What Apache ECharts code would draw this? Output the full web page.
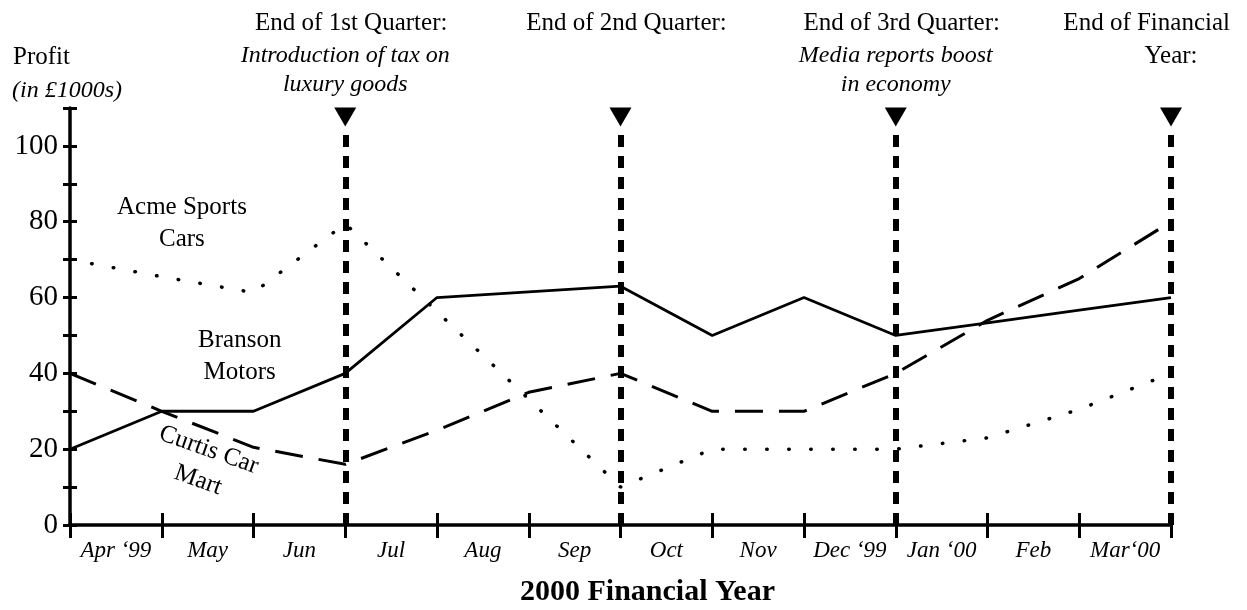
<!DOCTYPE html>
<html>
<head>
<meta charset="utf-8">
<title>2000 Financial Year profit</title>
<script src="https://cdn.jsdelivr.net/npm/echarts@6/dist/echarts.min.js"></script>
<style>
  html, body { margin: 0; padding: 0; background: #fff; }
  #main { width: 1247px; height: 610px; }
</style>
</head>
<body>
<div id="main"></div>
<script>
// month bands (labels sit between ticks), values sit on the month boundaries 0..12
var months = ['Apr \u201899', 'May', 'Jun', 'Jul', 'Aug', 'Sep', 'Oct', 'Nov', 'Dec \u201899', 'Jan \u201800', 'Feb', 'Mar\u201800'];
var branson = [20, 30, 30, 40, 60, 61.5, 63, 50, 60, 50, 53.3, 56.7, 60];
var curtis  = [40, 30, 20.5, 16, 25, 35, 40, 30, 30, 40, 54, 65, 80];
var acme    = [70, 65.5, 61.3, 79.5, 56.3, 33.2, 10, 20, 20, 20, 23, 30.5, 40];
var quarterEnds  = [3, 6, 9, 12];
var quarterHeads = ['End of 1st Quarter:', 'End of 2nd Quarter:', 'End of 3rd Quarter:', 'End of Financial\nYear:'];
var quarterNotes = ['Introduction of tax on\nluxury goods', '', 'Media reports boost\nin economy', ''];

var FONT = '"Liberation Serif", "Times New Roman", serif';
var myChart = echarts.init(document.getElementById('main'));

function pairs(arr) {
    return arr.map(function (v, i) { return [i, v]; });
}

var option = {
    animation: false,
    backgroundColor: '#fff',
    grid: { left: 70, right: 76, top: 108, bottom: 85 },
    xAxis: [{
        type: 'value', min: 0, max: 12, interval: 1, position: 'bottom',
        axisLine: { show: true, onZero: false, lineStyle: { color: '#000', width: 3.5 } },
        axisTick: { show: true, length: 13, lineStyle: { color: '#000', width: 3 } },
        axisLabel: { show: false },
        splitLine: { show: false }
    }, {
        type: 'value', min: 0, max: 12, interval: 1, position: 'bottom',
        axisLine: { show: false, onZero: false },
        axisTick: { show: true, inside: true, length: 12, lineStyle: { color: '#000', width: 3 } },
        axisLabel: { show: false },
        splitLine: { show: false }
    }, {
        type: 'category', data: months, boundaryGap: true, position: 'bottom',
        axisLine: { show: false, onZero: false },
        axisTick: { show: false },
        axisLabel: { interval: 0, margin: 14, color: '#000', fontFamily: FONT, fontStyle: 'italic', fontSize: 23 }
    }],
    yAxis: [{
        type: 'value', min: 0, max: 110, interval: 10, position: 'left',
        axisLine: { show: true, onZero: false, lineStyle: { color: '#000', width: 3.5 } },
        axisTick: { show: true, length: 7, lineStyle: { color: '#000', width: 3 } },
        axisLabel: {
            margin: 12, color: '#000', fontFamily: FONT, fontSize: 29,
            formatter: function (v) { return (v % 20 === 0 && v <= 100) ? String(v) : ''; }
        },
        splitLine: { show: false }
    }, {
        type: 'value', min: 0, max: 110, interval: 10, position: 'left',
        axisLine: { show: false, onZero: false },
        axisTick: { show: true, inside: true, length: 7, lineStyle: { color: '#000', width: 3 } },
        axisLabel: { show: false },
        splitLine: { show: false }
    }],
    series: [{
        name: 'Acme Sports Cars', type: 'line', data: pairs(acme),
        showSymbol: false, silent: true,
        lineStyle: { color: '#000', width: 3.5, type: [0.5, 21.5], cap: 'round' }
    }, {
        name: 'Curtis Car Mart', type: 'line', data: pairs(curtis),
        showSymbol: false, silent: true,
        lineStyle: { color: '#000', width: 3, type: [28, 16] }
    }, {
        name: 'Branson Motors', type: 'line', data: pairs(branson),
        showSymbol: false, silent: true,
        lineStyle: { color: '#000', width: 2.8, type: 'solid' }
    }, {
        name: 'quarters', type: 'scatter', silent: true,
        data: quarterEnds.map(function (q) { return [q, 107.6]; }),
        symbol: 'triangle', symbolRotate: 180, symbolSize: [22, 19],
        itemStyle: { color: '#000', opacity: 1 },
        markLine: {
            silent: true, symbol: 'none', label: { show: false },
            lineStyle: { color: '#000', width: 6, type: [12, 9], opacity: 1 },
            data: quarterEnds.map(function (q) { return [{ coord: [q, 0] }, { coord: [q, 103.5] }]; })
        }
    }]
};
myChart.setOption(option);

// text annotations
var ctx = document.createElement('canvas').getContext('2d');
function textWidth(str, font) { ctx.font = font; return ctx.measureText(str).width; }
function px(x, y) { return myChart.convertToPixel({ xAxisIndex: 0, yAxisIndex: 0 }, [x, y]); }

var graphics = [];
function addText(str, x, y, font, align, rotation) {
    graphics.push({
        type: 'text', x: x, y: y, rotation: rotation || 0, silent: true,
        style: { text: str, font: font, fill: '#000', align: align || 'center', verticalAlign: 'middle', lineHeight: 32 }
    });
}

var headFont = '25px ' + FONT;
var noteFont = 'italic 24px ' + FONT;
var rowY = [23, 56, 85];
quarterEnds.forEach(function (q, i) {
    var cx = px(q, 0)[0];
    var rows = [];
    quarterHeads[i].split('\n').forEach(function (s) { rows.push([s, headFont]); });
    if (quarterNotes[i]) quarterNotes[i].split('\n').forEach(function (s) { rows.push([s, noteFont]); });
    rows.forEach(function (r, k) {
        var w = textWidth(r[0], r[1]);
        var x = Math.min(cx + (k === 0 && i < 3 ? 6 : 0), 1230 - w / 2);
        addText(r[0], x, rowY[k], r[1]);
    });
});

addText('Profit', 13, 57, headFont, 'left');
addText('(in \u00a31000s)', 12, 91, noteFont, 'left');

// x-axis title, centred under the plot as in the original
addText('2000 Financial Year', px(6, 0)[0] + 27, 592, 'bold 30px ' + FONT);

var lf = '25px ' + FONT;
var p = px(1.22, 79.5);
addText('Acme Sports\nCars', p[0], p[1], lf);
p = px(1.85, 44.5);
addText('Branson\nMotors', p[0], p[1], lf);
p = px(1.455, 15.8);
addText('Curtis Car\nMart', p[0], p[1], lf, 'center', -0.34);

myChart.setOption({ graphic: { elements: graphics } });
</script>
</body>
</html>
